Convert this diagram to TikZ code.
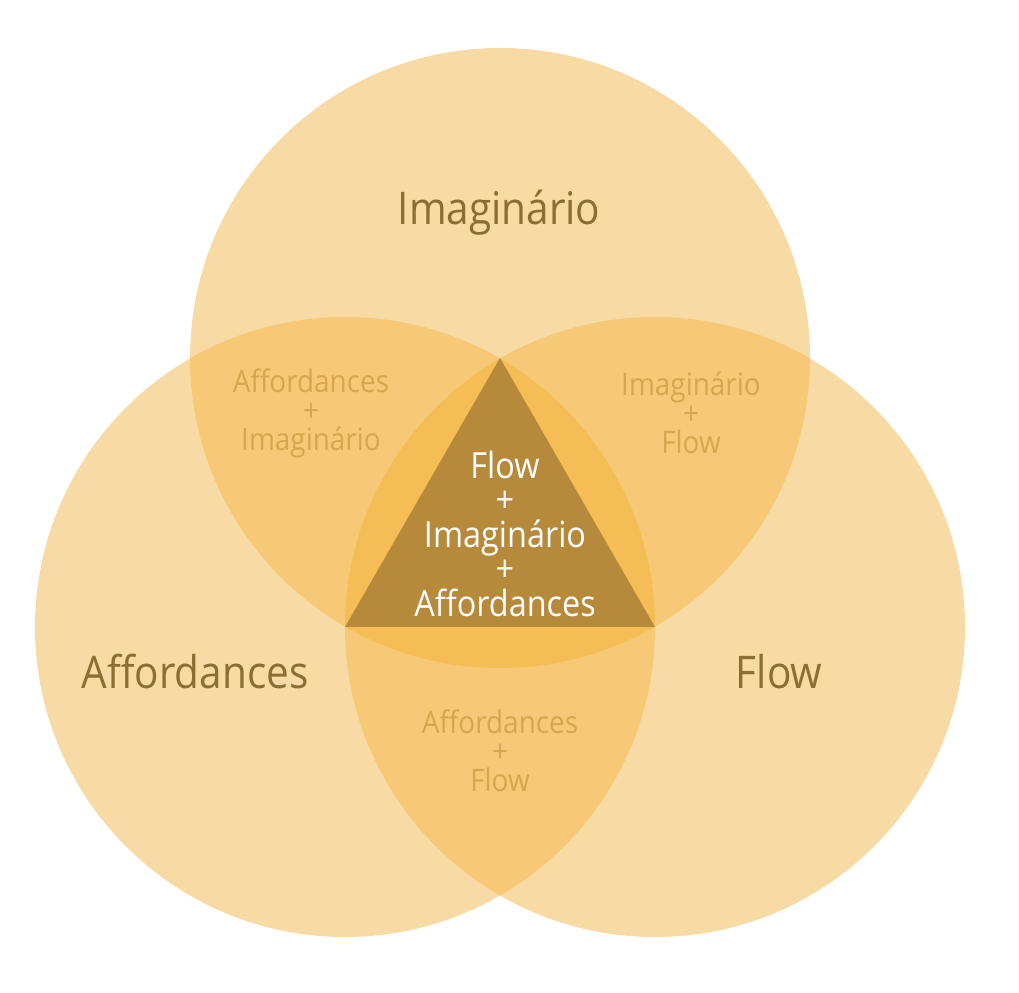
\documentclass[tikz,border=0pt]{standalone}
\usepackage{fontspec}
\setmainfont{Open Sans}[FakeStretch=0.9]
\definecolor{base}{HTML}{F8DBA4}
\definecolor{dbl}{HTML}{F7C875}
\definecolor{trp}{HTML}{F5BD55}
\definecolor{tri}{HTML}{B7893B}
\definecolor{maintxt}{HTML}{8C6D34}
\definecolor{ovtxt}{HTML}{D8A64E}
\tikzset{
  mainlbl/.style={text=maintxt, inner sep=0pt, font=\fontsize{45bp}{50bp}\selectfont},
  ovlbl/.style={text=ovtxt, inner sep=0pt, align=center, font=\fontsize{31bp}{29bp}\selectfont},
  ctrlbl/.style={text=white, inner sep=0pt, align=center, font=\fontsize{36bp}{34.5bp}\selectfont},
}
\begin{document}
\begin{tikzpicture}[x=1bp,y=1bp]
\useasboundingbox (0,0) rectangle (1019,993);
\coordinate (T) at (500,635);
\coordinate (L) at (345,366);
\coordinate (R) at (655,366);
\def\rr{310bp}
% single circles
\fill[base] (T) circle[radius=\rr];
\fill[base] (L) circle[radius=\rr];
\fill[base] (R) circle[radius=\rr];
% pairwise overlaps
\begin{scope}\clip (T) circle[radius=\rr]; \fill[dbl] (L) circle[radius=\rr];\end{scope}
\begin{scope}\clip (T) circle[radius=\rr]; \fill[dbl] (R) circle[radius=\rr];\end{scope}
\begin{scope}\clip (L) circle[radius=\rr]; \fill[dbl] (R) circle[radius=\rr];\end{scope}
% triple overlap
\begin{scope}\clip (T) circle[radius=\rr]; \clip (L) circle[radius=\rr]; \fill[trp] (R) circle[radius=\rr];\end{scope}
% central triangle
\fill[tri] (T) -- (L) -- (R) -- cycle;
% labels
\node[mainlbl] (imag) at (499,780) {Imaginário};
\node[mainlbl] (aff) at (195,321) {Affordances};
\node[mainlbl] (flow) at (779,321) {Flow};
\node[ovlbl] (ai) at (311,580) {Affordances\\+\\Imaginário};
\node[ovlbl] (if) at (691,580) {Imaginário\\+\\Flow};
\node[ovlbl] (af) at (500,242) {Affordances\\+\\Flow};
\node[ctrlbl] (fia) at (505,459) {Flow\\+\\Imaginário\\+\\Affordances};
\end{tikzpicture}
\end{document}
